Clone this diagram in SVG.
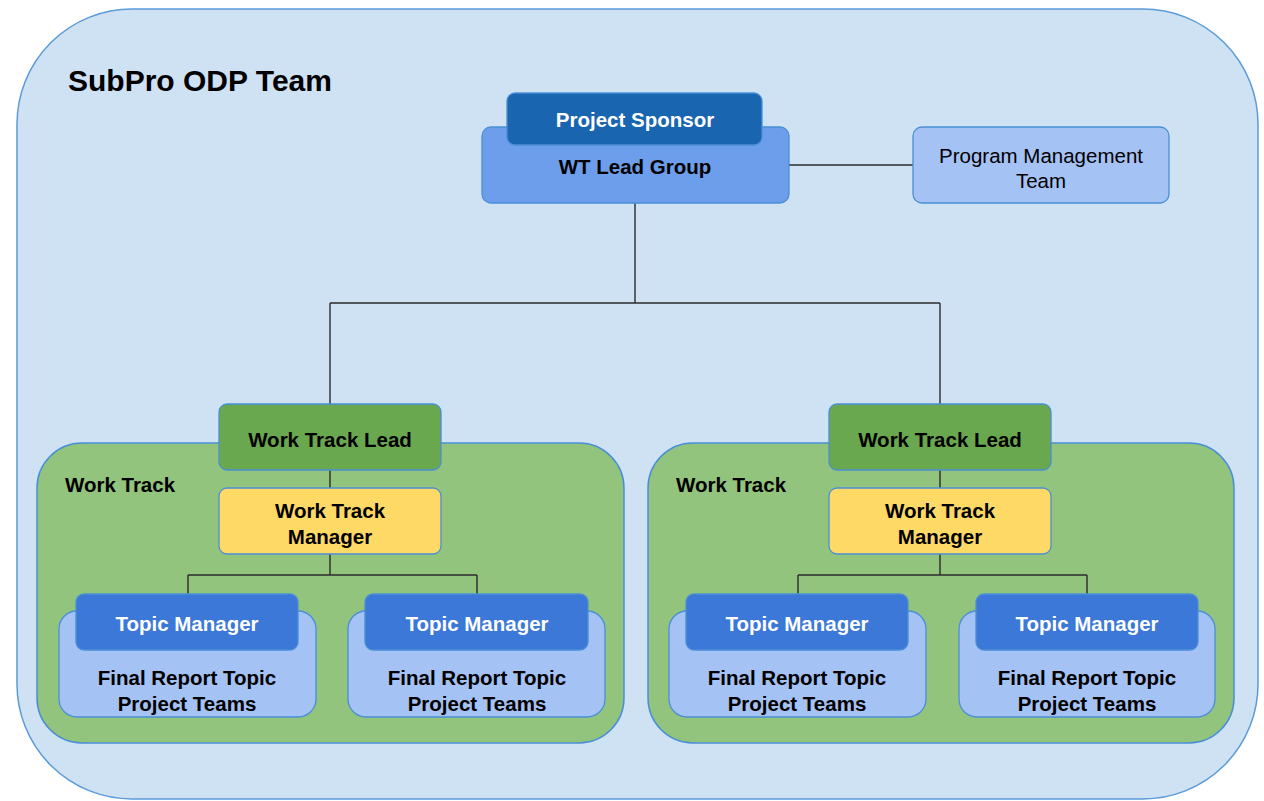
<svg xmlns="http://www.w3.org/2000/svg" width="1264" height="801" viewBox="0 0 1264 801">
<style>
text{font-family:"Liberation Sans",Arial,sans-serif;font-size:20.5px;fill:#000;text-anchor:middle;dominant-baseline:central}
.b{font-weight:bold}
.w{fill:#fff}
.box{stroke:#4a8fd6;stroke-width:1.3}
.outer{fill:#cfe2f3;stroke:#5a9bd8;stroke-width:1.5}
.wt{fill:#93c47d;stroke:#4a8fd6;stroke-width:1.5}
.sp{fill:#1a65b0}
.lg{fill:#6d9eeb}
.lb{fill:#a4c2f4}
.gl{fill:#6aa84f}
.yl{fill:#ffd966}
.tm{fill:#3c78d8}
.conn{fill:none;stroke:#2b2b2b;stroke-width:1.4}
</style>
<rect class="outer" x="17" y="9" width="1241" height="790" rx="115"/>
<text class="b" x="200" y="80" style="font-size:30px">SubPro ODP Team</text>
<g id="wt-left-container"><rect class="wt" x="37" y="443" width="587" height="300" rx="45"/><text class="b" x="120" y="484">Work Track</text></g>
<g id="wt-right-container"><rect class="wt" x="648" y="443" width="586" height="300" rx="45"/><text class="b" x="731" y="484">Work Track</text></g>
<g id="connectors">
<path class="conn" d="M789 165H913"/>
<path class="conn" d="M635 203V303M330 303H940M330 303V404M940 303V404"/>
<path class="conn" d="M330 470V488M330 554V575M188 575H477M188 575V594M477 575V594"/>
<path class="conn" d="M940 470V488M940 554V575M798 575H1087M798 575V594M1087 575V594"/>
</g>
<g id="wt-lead-group"><rect class="box lg" x="482" y="127" width="307" height="76" rx="9"/><text class="b" x="635" y="166">WT Lead Group</text></g>
<g id="project-sponsor"><rect class="box sp" x="507" y="93" width="255" height="52" rx="8"/><text class="b w" x="635" y="119">Project Sponsor</text></g>
<g id="program-management"><rect class="box lb" x="913" y="127" width="256" height="76" rx="9"/><text x="1041" y="155">Program Management</text><text x="1041" y="180">Team</text></g>
<g id="wt-lead-left"><rect class="box gl" x="219" y="404" width="222" height="66" rx="8"/><text class="b" x="330" y="439">Work Track Lead</text></g>
<g id="wt-lead-right"><rect class="box gl" x="829" y="404" width="222" height="66" rx="8"/><text class="b" x="940" y="439">Work Track Lead</text></g>
<g id="wt-manager-left"><rect class="box yl" x="219" y="488" width="222" height="66" rx="8"/><text class="b" x="330" y="510">Work Track</text><text class="b" x="330" y="536">Manager</text></g>
<g id="wt-manager-right"><rect class="box yl" x="829" y="488" width="222" height="66" rx="8"/><text class="b" x="940" y="510">Work Track</text><text class="b" x="940" y="536">Manager</text></g>
<g id="topic-1"><rect class="box lb" x="59" y="611" width="257" height="106" rx="18"/><text class="b" x="187" y="677">Final Report Topic</text><text class="b" x="187" y="703">Project Teams</text><rect class="box tm" x="76" y="594" width="222" height="56" rx="8"/><text class="b w" x="187" y="623">Topic Manager</text></g>
<g id="topic-2"><rect class="box lb" x="348" y="611" width="257" height="106" rx="18"/><text class="b" x="477" y="677">Final Report Topic</text><text class="b" x="477" y="703">Project Teams</text><rect class="box tm" x="365" y="594" width="223" height="56" rx="8"/><text class="b w" x="477" y="623">Topic Manager</text></g>
<g id="topic-3"><rect class="box lb" x="669" y="611" width="257" height="106" rx="18"/><text class="b" x="797" y="677">Final Report Topic</text><text class="b" x="797" y="703">Project Teams</text><rect class="box tm" x="686" y="594" width="222" height="56" rx="8"/><text class="b w" x="797" y="623">Topic Manager</text></g>
<g id="topic-4"><rect class="box lb" x="959" y="611" width="256" height="106" rx="18"/><text class="b" x="1087" y="677">Final Report Topic</text><text class="b" x="1087" y="703">Project Teams</text><rect class="box tm" x="976" y="594" width="222" height="56" rx="8"/><text class="b w" x="1087" y="623">Topic Manager</text></g>
</svg>
